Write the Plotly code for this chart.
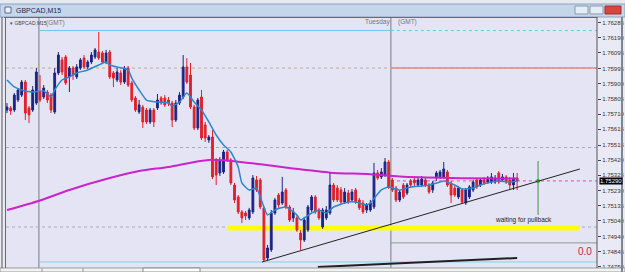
import plotly.graph_objects as go

W, H = 625, 272

# ---------------- data (GBPCAD M15) ----------------
open_ = [1.75736,1.75749,1.75736,1.75799,1.75830,1.75912,1.75749,1.75736,1.75780,1.75849,
         1.75818,1.75849,1.75830,1.75724,1.75969,1.76051,1.76070,1.75944,1.76000,1.75944,
         1.76000,1.76063,1.76007,1.76038,1.76070,1.76101,1.76095,1.76038,1.76101,1.75969,
         1.75925,1.75969,1.75912,1.76000,1.75906,1.75812,1.75724,1.75755,1.75736,1.75661,
         1.75736,1.75749,1.75812,1.75812,1.75799,1.75780,1.75673,1.75780,1.75818,1.76007,
         1.75956,1.75755,1.75623,1.75818,1.75642,1.75547,1.75566,1.75422,1.75340,1.75346,
         1.75472,1.75422,1.75264,1.75189,1.75095,1.75088,1.75057,1.75095,1.75296,1.75296,
         1.75120,1.74805,1.74856,1.75088,1.75201,1.75151,1.75233,1.75126,1.75057,1.75057,
         1.74962,1.74918,1.74981,1.75107,1.75189,1.75107,1.75000,1.75057,1.75088,1.75264,
         1.75245,1.75233,1.75157,1.75214,1.75170,1.75233,1.75170,1.75151,1.75107,1.75107,
         1.75126,1.75340,1.75315,1.75327,1.75409,1.75296,1.75245,1.75170,1.75264,1.75214,
         1.75290,1.75296,1.75264,1.75264,1.75296,1.75264,1.75233,1.75308,1.75315,1.75315,
         1.75346,1.75277,1.75245,1.75189,1.75233,1.75151,1.75189,1.75233,1.75296,1.75264,
         1.75296,1.75283,1.75283,1.75283,1.75340,1.75296,1.75315,1.75296,1.75264,1.75308]
high = [1.75780,1.75761,1.75843,1.75874,1.75925,1.75925,1.75761,1.75887,1.76000,1.75956,
        1.75893,1.75862,1.75843,1.76000,1.76101,1.76070,1.76082,1.76013,1.76013,1.76025,
        1.76063,1.76082,1.76051,1.76101,1.76126,1.76227,1.76107,1.76114,1.76114,1.75981,
        1.76000,1.75988,1.76013,1.76013,1.75919,1.75824,1.75799,1.75768,1.75749,1.75749,
        1.75749,1.75837,1.75824,1.75830,1.75818,1.75793,1.75799,1.75849,1.76082,1.76063,
        1.76032,1.75768,1.75812,1.75862,1.75661,1.75579,1.75610,1.75434,1.75440,1.75485,
        1.75485,1.75434,1.75277,1.75201,1.75107,1.75101,1.75120,1.75327,1.75321,1.75308,
        1.75132,1.74887,1.75107,1.75183,1.75214,1.75315,1.75245,1.75139,1.75120,1.75076,
        1.74981,1.75063,1.75139,1.75201,1.75201,1.75120,1.75120,1.75132,1.75340,1.75277,
        1.75264,1.75252,1.75245,1.75233,1.75239,1.75245,1.75183,1.75170,1.75151,1.75170,
        1.75403,1.75359,1.75371,1.75434,1.75422,1.75308,1.75258,1.75233,1.75277,1.75277,
        1.75302,1.75315,1.75315,1.75321,1.75315,1.75277,1.75290,1.75352,1.75359,1.75409,
        1.75359,1.75290,1.75258,1.75258,1.75245,1.75245,1.75264,1.75296,1.75308,1.75308,
        1.75315,1.75321,1.75340,1.75327,1.75352,1.75334,1.75327,1.75315,1.75340,1.75340]
low = [1.75717,1.75705,1.75724,1.75786,1.75818,1.75673,1.75654,1.75724,1.75768,1.75786,
       1.75805,1.75780,1.75717,1.75711,1.75956,1.75956,1.75893,1.75849,1.75925,1.75931,
       1.75988,1.75994,1.75994,1.76025,1.76057,1.76051,1.76025,1.76025,1.75931,1.75881,
       1.75912,1.75893,1.75900,1.75881,1.75786,1.75724,1.75711,1.75623,1.75648,1.75648,
       1.75629,1.75736,1.75768,1.75755,1.75761,1.75629,1.75661,1.75768,1.75805,1.75900,
       1.75742,1.75610,1.75610,1.75547,1.75535,1.75529,1.75302,1.75264,1.75321,1.75334,
       1.75409,1.75264,1.75151,1.75082,1.75025,1.75044,1.75044,1.75082,1.75220,1.75113,
       1.74786,1.74786,1.74843,1.75076,1.75120,1.75139,1.75113,1.75032,1.75032,1.74969,
       1.74856,1.74906,1.74969,1.75095,1.75082,1.75044,1.74988,1.75044,1.75076,1.75157,
       1.75157,1.75145,1.75145,1.75145,1.75157,1.75145,1.75107,1.75082,1.75088,1.75095,
       1.75113,1.75296,1.75302,1.75315,1.75239,1.75220,1.75157,1.75157,1.75176,1.75201,
       1.75245,1.75258,1.75252,1.75252,1.75252,1.75208,1.75214,1.75290,1.75302,1.75302,
       1.75252,1.75151,1.75189,1.75176,1.75145,1.75139,1.75176,1.75220,1.75239,1.75252,
       1.75264,1.75271,1.75271,1.75271,1.75271,1.75283,1.75271,1.75233,1.75233,1.75233]
close = [1.75755,1.75730,1.75830,1.75862,1.75912,1.75717,1.75705,1.75862,1.75975,1.75799,
         1.75874,1.75799,1.75736,1.75969,1.76082,1.75975,1.75906,1.76000,1.75956,1.76007,
         1.76051,1.76007,1.76038,1.76082,1.76114,1.76063,1.76038,1.76095,1.75944,1.75937,
         1.75975,1.75912,1.76000,1.75893,1.75799,1.75736,1.75768,1.75661,1.75661,1.75736,
         1.75661,1.75799,1.75780,1.75768,1.75780,1.75673,1.75780,1.75830,1.76007,1.75912,
         1.75755,1.75623,1.75799,1.75560,1.75560,1.75566,1.75315,1.75327,1.75422,1.75472,
         1.75422,1.75277,1.75170,1.75095,1.75057,1.75069,1.75107,1.75308,1.75233,1.75126,
         1.74793,1.74868,1.75088,1.75170,1.75139,1.75220,1.75126,1.75044,1.75095,1.74981,
         1.74918,1.75044,1.75126,1.75189,1.75095,1.75057,1.75107,1.75107,1.75264,1.75170,
         1.75170,1.75157,1.75220,1.75157,1.75220,1.75157,1.75120,1.75095,1.75139,1.75151,
         1.75340,1.75308,1.75346,1.75409,1.75252,1.75233,1.75170,1.75220,1.75189,1.75264,
         1.75264,1.75277,1.75296,1.75302,1.75264,1.75220,1.75277,1.75340,1.75346,1.75365,
         1.75264,1.75201,1.75201,1.75245,1.75157,1.75233,1.75252,1.75283,1.75252,1.75296,
         1.75277,1.75308,1.75315,1.75308,1.75283,1.75315,1.75283,1.75264,1.75308,1.75290]
bars = list(range(len(close)))

# fast moving average (blue), read at selected bars
fast_ma_bar = [0,2,4,7,10,12,13,15,17,19,22,25,27,28,30,33,34,36,38,41,44,45,47,49,51,53,55,57,
               59,61,63,64,66,68,69,71,73,76,79,80,83,85,87,89,93,95,98,99,102,104,107,110,113,
               115,118,119,122,124,127,129,132,134,137,139]
fast_ma = [1.75925,1.75881,1.75862,1.75849,1.75856,1.75818,1.75862,1.75925,1.75944,1.75969,
           1.75988,1.76019,1.76038,1.76019,1.76007,1.75988,1.75937,1.75862,1.75799,1.75786,
           1.75780,1.75761,1.75786,1.75843,1.75786,1.75736,1.75661,1.75579,1.75516,1.75472,
           1.75378,1.75277,1.75233,1.75245,1.75189,1.75076,1.75107,1.75126,1.75076,1.75044,
           1.75088,1.75107,1.75088,1.75126,1.75157,1.75157,1.75139,1.75151,1.75233,1.75252,
           1.75233,1.75252,1.75258,1.75264,1.75283,1.75290,1.75264,1.75239,1.75245,1.75264,
           1.75283,1.75290,1.75283,1.75290]
# slow moving average (magenta)
slow_ma_bar = [0,9,17,28,36,44,55,66,77,88,99,107,121,139]
slow_ma = [1.75107,1.75167,1.75233,1.75308,1.75352,1.75378,1.75422,1.75403,1.75371,1.75342,
           1.75332,1.75317,1.75308,1.75305]

# price scale tick labels
tick_vals = [1.76285,1.76190,1.76095,1.75995,1.75900,1.75805,1.75710,1.75615,1.75515,
             1.75420,1.75325,1.75230,1.75135,1.75040,1.74940,1.74845,1.74750]
tick_text = ["%.5f" % v for v in tick_vals]
last_price = 1.75290

# drawn objects / levels
day_breaks = [8.7, 104.6]
day_high, day_low = 1.76236, 1.74780
round_levels = [1.7600, 1.7550, 1.7500]
support_zone = (60.2, 156.1, 1.74994)
trend_line = ((69.5, 1.74780), (156.1, 1.75365))
lower_line = ((84.7, 1.74749), (139.0, 1.74805))
target_level = 1.74900
signal_bar, signal_top, signal_bottom, signal_price = 144.7, 1.75415, 1.75076, 1.75290

X_MIN, X_MAX = -0.27, 160.76
Y_MIN, Y_MAX = 1.74742, 1.76315

BULL = "#1c2484"
BEAR = "#e0202a"

fig = go.Figure()
fig.add_trace(go.Scatter(x=slow_ma_bar, y=slow_ma, mode="lines",
                         line=dict(color="#cc22cc", width=2, shape="spline", smoothing=0.8),
                         hoverinfo="skip"))
fig.add_trace(go.Candlestick(x=bars, open=open_, high=high, low=low, close=close,
                             increasing=dict(line=dict(color=BULL, width=1), fillcolor=BULL),
                             decreasing=dict(line=dict(color=BEAR, width=1), fillcolor=BEAR),
                             whiskerwidth=0))
fig.add_trace(go.Scatter(x=fast_ma_bar, y=fast_ma, mode="lines",
                         line=dict(color="#2e86cc", width=1.5, shape="spline", smoothing=0.5),
                         hoverinfo="skip"))
fig.add_trace(go.Scatter(x=[signal_bar], y=[signal_price], mode="markers",
                         marker=dict(color="#3aa03a", size=4), hoverinfo="skip"))

shapes = []
def hline(y, x0, x1, color, width=1, dash="solid", layer="above"):
    shapes.append(dict(type="line", xref="x", yref="y", x0=x0, x1=x1, y0=y, y1=y,
                       line=dict(color=color, width=width, dash=dash), layer=layer))

# round levels (dotted)
hline(round_levels[0], X_MIN, X_MAX, "#c8a898", 1, "dot", "below")
hline(round_levels[0], day_breaks[1], X_MAX, "#e48888", 1.5, "solid", "below")
hline(round_levels[1], X_MIN, X_MAX, "#a8a8b8", 1, "dot", "below")
hline(round_levels[2], X_MIN, X_MAX, "#a8a8b8", 1, "dot", "below")
# day high / low
hline(day_high, day_breaks[0], day_breaks[1], "#6cc8e4", 1, "solid", "below")
hline(day_high, day_breaks[1], X_MAX, "#6cc8e4", 1, "dot", "below")
hline(day_low, day_breaks[0], X_MAX, "#8ad0ec", 1, "solid", "below")
# current price
hline(last_price, day_breaks[1], X_MAX, "#d050b0", 1, "dot", "below")
# target level
hline(target_level, day_breaks[1], X_MAX, "#8a9a8a", 1, "solid", "below")
# yellow support zone
hline(support_zone[2], support_zone[0], support_zone[1], "#ffff00", 5, "solid", "below")
# day separators
for b in day_breaks:
    shapes.append(dict(type="line", xref="x", yref="paper", x0=b, x1=b, y0=4/272, y1=1-18/272,
                       line=dict(color="#7a7a7a", width=1), layer="below"))
# trend lines
shapes.append(dict(type="line", xref="x", yref="y", x0=trend_line[0][0], y0=trend_line[0][1],
                   x1=trend_line[1][0], y1=trend_line[1][1], line=dict(color="#222222", width=1)))
shapes.append(dict(type="line", xref="x", yref="y", x0=lower_line[0][0], y0=lower_line[0][1],
                   x1=lower_line[1][0], y1=lower_line[1][1], line=dict(color="#202020", width=2)))
# signal vertical
shapes.append(dict(type="line", xref="x", yref="y", x0=signal_bar, x1=signal_bar,
                   y0=signal_bottom, y1=signal_top, line=dict(color="#3a9a3a", width=1)))

# ---- window chrome (paper coords, pixel helpers) ----
def px(x): return x / W
def py(y): return 1 - y / H
def rect(x0, y0, x1, y1, fill, line="rgba(0,0,0,0)", lw=1):
    shapes.append(dict(type="rect", xref="paper", yref="paper", x0=px(x0), x1=px(x1),
                       y0=py(y1), y1=py(y0), fillcolor=fill, line=dict(color=line, width=lw),
                       layer="above"))
def seg(x0, y0, x1, y1, color, lw=1):
    shapes.append(dict(type="line", xref="paper", yref="paper", x0=px(x0), x1=px(x1),
                       y0=py(y0), y1=py(y1), line=dict(color=color, width=lw), layer="above"))

rect(0, 0, 625, 4, "#e6e9ee")
rect(0, 4, 625, 17, "#c6d6ea", "#8ea2bc")
rect(5, 7, 11, 13, "#eef2f8", "#5a6a8a")
rect(575, 6, 588, 14, "#e4ecf6", "#8899aa")
rect(590, 6, 603, 14, "#e4ecf6", "#8899aa")
rect(605, 6, 621, 14, "#d8473f", "#9a3030")
rect(0, 268, 625, 272, "#f2f2f2", "#9a9a9a")
rect(143, 268, 200, 272, "#ffffff", "#888888")
seg(42, 268, 42, 272, "#999999")
seg(83, 268, 83, 272, "#999999")
seg(4, 17.5, 597, 17.5, "#6a6a6a")
seg(597, 17, 597, 268, "#555555")
seg(2, 17, 2, 268, "#555555")
seg(5.5, 17, 5.5, 268, "#6a6a6a")
seg(622, 17, 622, 272, "#7a8696", 2)

annotations = [
    dict(x=px(14), y=py(10.5), text="GBPCAD,M15", font=dict(size=7, color="#1a2a4a")),
    dict(x=px(8), y=py(23), text="▾ GBPCAD,M15", font=dict(size=5, color="#444444")),
    dict(x=px(44), y=py(23), text="(GMT)", font=dict(size=6.5, color="#777777")),
    dict(x=px(363), y=py(22), text="Tuesday", font=dict(size=6.5, color="#777777")),
    dict(x=px(396), y=py(22), text="(GMT)", font=dict(size=6.5, color="#777777")),
    dict(x=px(493), y=py(220), text="waiting for pullback", font=dict(size=6.5, color="#222222")),
    dict(x=px(576), y=py(251), text="0.0", font=dict(size=10, color="#c81e3c")),
]
for a in annotations:
    a.update(xref="paper", yref="paper", showarrow=False, xanchor="left", yanchor="middle")
annotations.append(dict(xref="paper", yref="y", x=px(599), y=last_price, xanchor="left",
                        yanchor="middle", showarrow=False, text="%.5f" % last_price,
                        font=dict(size=6, color="#ffffff"), bgcolor="#000000", borderpad=0))

fig.update_layout(
    width=W, height=H, autosize=False,
    margin=dict(l=0, r=0, t=0, b=0),
    paper_bgcolor="#eaeaf6", plot_bgcolor="#e4e4f4",
    showlegend=False,
    font=dict(family="Liberation Sans, Arial, sans-serif"),
    xaxis=dict(domain=[6/W, 597/W], range=[X_MIN, X_MAX], visible=False,
               rangeslider=dict(visible=False), fixedrange=True),
    yaxis=dict(domain=[4/H, 1-18/H], range=[Y_MIN, Y_MAX], side="right",
               tickvals=tick_vals, ticktext=tick_text, ticks="outside", ticklen=3,
               tickcolor="#444444", tickfont=dict(size=6, color="#333333"),
               showgrid=False, zeroline=False, showline=False, automargin=False,
               fixedrange=True),
    shapes=shapes, annotations=annotations,
)

fig.write_html("out.html", config={"displayModeBar": False})
